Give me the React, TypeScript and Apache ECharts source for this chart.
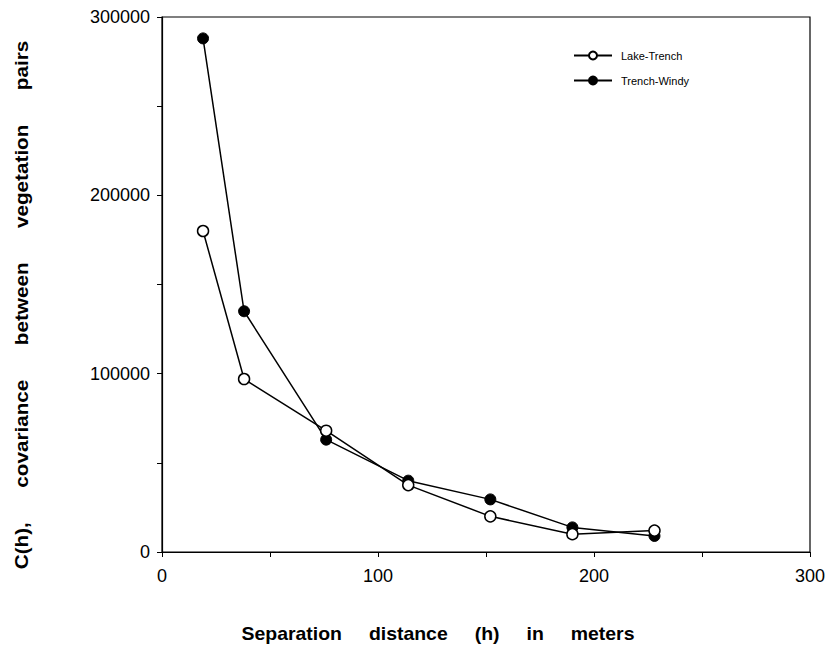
import React, { useEffect, useRef } from "react";
import * as echarts from "echarts";

const distances = [19, 38, 76, 114, 152, 190, 228];
const lakeTrench = [180000, 97000, 68000, 37500, 20000, 10000, 12000];
const trenchWindy = [288000, 135000, 63000, 40000, 29500, 13800, 9000];
const seriesNames = ["Lake-Trench", "Trench-Windy"];
const xTitle = ["Separation", "distance", "(h)", "in", "meters"].join("\u00a0".repeat(5));
const yTitle = ["C(h),", "covariance", "between", "vegetation", "pairs"].join("\u00a0".repeat(6));

const FONT = "'Liberation Sans', Arial, Helvetica, sans-serif";

export default function App() {
  const ref = useRef<HTMLDivElement>(null);
  useEffect(() => {
    if (!ref.current) return;
    const chart = echarts.init(ref.current, undefined, { renderer: "svg" });
    const pairs = (ys: number[]) => distances.map((d, i) => [d, ys[i]]);
    chart.setOption({
      animation: false,
      backgroundColor: "#ffffff",
      grid: { left: 162, right: 30, top: 17, bottom: 96, show: true, borderColor: "#000", borderWidth: 1.2, backgroundColor: "transparent" },
      legend: {
        orient: "vertical",
        left: 568,
        top: 45,
        itemWidth: 38,
        itemHeight: 10,
        itemGap: 14,
        textStyle: { fontFamily: FONT, fontSize: 11, color: "#000", padding: [0, 0, 0, 4] },
        data: seriesNames,
      },
      xAxis: {
        type: "value",
        min: 0,
        max: 300,
        interval: 50,
        splitLine: { show: false },
        axisLine: { onZero: false, lineStyle: { color: "#000", width: 1.2 } },
        axisTick: { show: true, length: 5, lineStyle: { color: "#000" } },
        axisLabel: {
          color: "#000",
          fontFamily: FONT,
          fontSize: 18,
          margin: 15,
          formatter: (v: number) => (v % 100 === 0 ? String(v) : ""),
        },
      },
      yAxis: {
        type: "value",
        min: 0,
        max: 300000,
        interval: 50000,
        splitLine: { show: false },
        axisLine: { onZero: false, lineStyle: { color: "#000", width: 1.2 } },
        axisTick: { show: true, length: 5, lineStyle: { color: "#000" } },
        axisLabel: {
          color: "#000",
          fontFamily: FONT,
          fontSize: 18,
          margin: 12,
          formatter: (v: number) => (v % 100000 === 0 ? String(v) : ""),
        },
      },
      graphic: [
        {
          type: "text",
          x: 438,
          y: 634,
          scaleX: 1.08,
          style: { text: xTitle, fontFamily: FONT, fontSize: 18, fontWeight: "bold", fill: "#000", align: "center", verticalAlign: "middle" },
        },
        {
          type: "text",
          x: 22,
          y: 305,
          rotation: Math.PI / 2,
          scaleX: 1.15,
          style: { text: yTitle, fontFamily: FONT, fontSize: 18, fontWeight: "bold", fill: "#000", align: "center", verticalAlign: "middle" },
        },
      ],
      series: [
        {
          name: seriesNames[0],
          type: "line",
          data: pairs(lakeTrench),
          symbol: "circle",
          symbolSize: 11,
          lineStyle: { color: "#000", width: 1.5 },
          itemStyle: { color: "#fff", borderColor: "#000", borderWidth: 1.5 },
          z: 3,
        },
        {
          name: seriesNames[1],
          type: "line",
          data: pairs(trenchWindy),
          symbol: "circle",
          symbolSize: 11,
          lineStyle: { color: "#000", width: 1.5 },
          itemStyle: { color: "#000", borderColor: "#000", borderWidth: 1 },
          z: 2,
        },
      ],
    });
    return () => chart.dispose();
  }, []);
  return <div ref={ref} style={{ width: 840, height: 648, position: "absolute", left: 0, top: 0 }} />;
}
